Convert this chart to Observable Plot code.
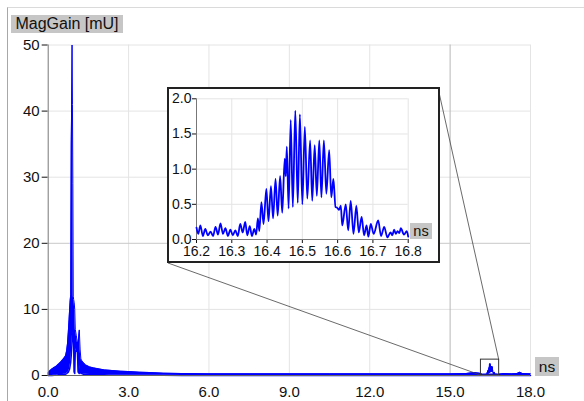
<!DOCTYPE html>
<html><head><meta charset="utf-8">
<script src="https://cdn.jsdelivr.net/npm/d3@7"></script>
<script src="https://cdn.jsdelivr.net/npm/@observablehq/plot@0.6"></script>
<style>
html,body{margin:0;padding:0;background:#fff;}
#wrap{position:relative;width:584px;height:401px;overflow:hidden;font-family:"Liberation Sans",Arial,sans-serif;}
#frame{position:absolute;left:7px;top:7px;width:600px;height:420px;border-left:1px solid #a8a8a8;border-top:1px solid #dadada;}
#main{position:absolute;left:0;top:0;}
.lbl{position:absolute;background:#c6c6c6;color:#111;text-align:center;white-space:nowrap;}
#inset{position:absolute;left:167px;top:87px;width:269px;height:172px;border:2px solid #222;background:#fff;}
#inset svg{display:block;}
</style></head>
<body><div id="wrap"><div id="frame"></div><div id="main"></div><div id="inset"></div></div>
<script>
// ---- data ----
const titleText = "MagGain [mU]";
const unitText = "ns";
const xTicks = [0, 3, 6, 9, 12, 15, 18];
const yTicks = [0, 10, 20, 30, 40, 50];
const xMarked = [15];
const yMarked = [20];
const insetXTicks = [16.2, 16.3, 16.4, 16.5, 16.6, 16.7, 16.8];
const insetYTicks = [0, 0.5, 1.0, 1.5, 2.0];
const zoomBoxX = [16.15, 16.83];
const zoomBoxY = [0, 2.4];

// main trace envelope (min / max of the fast oscillation per position)
const mainX  = [0, 0.06, 0.14, 0.22, 0.30, 0.38, 0.46, 0.54, 0.60, 0.65, 0.69, 0.72, 0.75, 0.78, 0.80, 0.82, 0.84, 0.86, 0.875, 0.89, 0.905, 0.92, 0.935, 0.95, 0.97, 0.99, 1.01, 1.05, 1.09, 1.12, 1.16, 1.19, 1.22, 1.26, 1.30, 1.40, 1.55, 1.70, 1.90, 2.10, 2.40, 2.70, 3.00, 3.40, 3.80, 4.30, 5.00, 6.00, 7.50, 9.00, 10.5, 12.0, 13.5, 15.0, 15.6, 15.9, 16.1, 16.2, 16.8, 17.0, 17.3, 17.5, 17.6, 17.7, 18.0];
const mainLo = [0, 0, 0, 0.05, 0.05, 0.1, 0.1, 0.15, 0.2, 0.2, 0.3, 0.4, 0.5, 0.8, 1.0, 1.5, 2.0, 3.0, 4.0, 5.0, 6.0, 6.5, 6.0, 5.0, 0.5, 0.3, 3.5, 4.0, 3.5, 0.5, 0.3, 1.5, 0.3, 0.3, 0.2, 0.2, 0.15, 0.1, 0.1, 0.1, 0.05, 0.05, 0.05, 0.05, 0.05, 0.05, 0, 0, 0, 0, 0, 0, 0, 0, 0, 0, 0, 0, 0, 0, 0, 0, 0, 0, 0];
const mainHi = [0.4, 0.7, 1.0, 1.2, 1.4, 1.7, 2.0, 2.4, 2.7, 3.0, 3.8, 4.8, 6.5, 8.5, 10.0, 11.3, 12.2, 35, 41, 50, 41, 29, 12.0, 11.5, 11.0, 10.0, 7.0, 6.0, 5.0, 5.0, 6.9, 4.0, 2.5, 2.2, 2.0, 1.6, 1.3, 1.15, 1.0, 0.85, 0.75, 0.65, 0.6, 0.5, 0.45, 0.35, 0.3, 0.25, 0.25, 0.25, 0.25, 0.25, 0.25, 0.25, 0.3, 0.45, 0.35, 0.2, 0.2, 0.3, 0.25, 0.3, 0.5, 0.3, 0.25];

// zoomed trace 16.2 – 16.8 ns
const insetX = [16.200, 16.205, 16.211, 16.218, 16.225, 16.232, 16.240, 16.247, 16.254, 16.261, 16.268, 16.275, 16.282, 16.289, 16.296, 16.303, 16.310, 16.317, 16.324, 16.331, 16.338, 16.344, 16.351, 16.357, 16.364, 16.369, 16.374, 16.378, 16.384, 16.390, 16.398, 16.404, 16.411, 16.417, 16.424, 16.430, 16.437, 16.443, 16.450, 16.453, 16.456, 16.461, 16.467, 16.473, 16.480, 16.487, 16.493, 16.500, 16.507, 16.514, 16.522, 16.528, 16.535, 16.541, 16.548, 16.554, 16.561, 16.568, 16.576, 16.582, 16.588, 16.594, 16.599, 16.604, 16.609, 16.613, 16.623, 16.630, 16.637, 16.645, 16.653, 16.660, 16.668, 16.675, 16.682, 16.687, 16.694, 16.702, 16.715, 16.723, 16.732, 16.741, 16.750, 16.755, 16.760, 16.765, 16.770, 16.775, 16.779, 16.788, 16.796, 16.800];
const insetY = [0.17, 0.08, 0.20, 0.05, 0.15, 0.06, 0.11, 0.05, 0.18, 0.07, 0.23, 0.08, 0.16, 0.05, 0.14, 0.06, 0.13, 0.05, 0.22, 0.10, 0.25, 0.06, 0.19, 0.05, 0.15, 0.07, 0.30, 0.12, 0.53, 0.22, 0.72, 0.26, 0.76, 0.30, 0.86, 0.34, 0.90, 0.38, 1.15, 0.90, 1.32, 0.44, 1.70, 0.46, 1.83, 0.52, 1.78, 0.50, 1.60, 0.58, 1.41, 0.55, 1.34, 0.62, 1.41, 0.60, 1.41, 0.65, 1.27, 0.60, 0.86, 0.46, 0.45, 0.42, 0.48, 0.20, 0.50, 0.13, 0.55, 0.08, 0.48, 0.10, 0.32, 0.06, 0.20, 0.04, 0.22, 0.08, 0.27, 0.05, 0.18, 0.03, 0.10, 0.06, 0.14, 0.08, 0.12, 0.09, 0.16, 0.07, 0.12, 0.04];

// ---- tables ----
const mainData = mainX.map((x, i) => ({x, lo: mainLo[i], hi: mainHi[i]}));
const insetData = insetX.map((x, i) => ({x, y: insetY[i]}));
const zoomBox = [{x1: zoomBoxX[0], x2: zoomBoxX[1], y1: zoomBoxY[0], y2: zoomBoxY[1]}];

const BLUE = "#0000ff";
const GRID = "#e4e4e4";
const fmt = d3.format(".1f");
const FONT = "'Liberation Sans', Arial, sans-serif";

// ---- main chart ----
const main = Plot.plot({
  width: 584, height: 401,
  marginLeft: 47.7, marginRight: 54, marginTop: 44.5, marginBottom: 26,
  x: {domain: [0, 18], ticks: xTicks, tickFormat: fmt, tickSize: 0, tickPadding: 11, label: null},
  y: {domain: [0, 50], ticks: yTicks, tickSize: 6, tickPadding: 2.5, label: null},
  style: {fontFamily: FONT, fontSize: "15px", color: "#111", background: "transparent", overflow: "visible"},
  marks: [
    Plot.ruleX(xTicks.filter(d => d > 0 && !xMarked.includes(d)), {stroke: GRID}),
    Plot.ruleY(yTicks.filter(d => d > 0 && !yMarked.includes(d)), {stroke: GRID}),
    Plot.ruleX(xMarked, {stroke: "#b8b8b8"}),
    Plot.ruleY(yMarked, {stroke: "#c8c8c8"}),
    Plot.areaY(mainData, {x: "x", y1: "lo", y2: "hi", fill: BLUE}),
    Plot.line(mainData, {x: "x", y: "hi", stroke: BLUE, strokeWidth: 1}),
    Plot.line(mainData, {x: "x", y: "lo", stroke: BLUE, strokeWidth: 1.5}),
    Plot.line(insetData, {x: "x", y: "y", stroke: BLUE, strokeWidth: 1}),
    Plot.rect(zoomBox, {x1: "x1", x2: "x2", y1: "y1", y2: "y2", stroke: "#333", strokeWidth: 1, fill: "none"}),
    Plot.ruleX([0], {stroke: "#777"}),
    Plot.ruleY([0], {stroke: "#666"})
  ]
});
document.getElementById("main").appendChild(main);

// connector lines from zoom box to inset panel
const sx = main.scale("x"), sy = main.scale("y");
const mx = d3.scaleLinear(sx.domain, sx.range), my = d3.scaleLinear(sy.domain, sy.range);
const insetBox = {left: 168, top: 88, right: 438, bottom: 263};
const conn = d3.select(main).append("g").attr("stroke", "#444").attr("stroke-width", 0.8);
conn.append("line").attr("x1", mx(zoomBoxX[0])).attr("y1", my(zoomBoxY[0])).attr("x2", insetBox.left).attr("y2", insetBox.bottom);
conn.append("line").attr("x1", mx(zoomBoxX[1])).attr("y1", my(zoomBoxY[1])).attr("x2", insetBox.right).attr("y2", insetBox.top);

// ---- inset chart ----
const inset = Plot.plot({
  width: 269, height: 172,
  marginLeft: 27, marginRight: 30.3, marginTop: 9.3, marginBottom: 22,
  x: {domain: [16.2, 16.8], ticks: insetXTicks, tickFormat: fmt, tickSize: 4, tickPadding: 3, label: null},
  y: {domain: [0, 2], ticks: insetYTicks, tickFormat: fmt, tickSize: 4, tickPadding: 1, label: null},
  style: {fontFamily: FONT, fontSize: "14px", color: "#111", background: "#fff", overflow: "visible"},
  marks: [
    Plot.ruleX(insetXTicks.slice(1), {stroke: GRID}),
    Plot.ruleY(insetYTicks.slice(1), {stroke: GRID}),
    Plot.ruleX([16.2], {stroke: "#777"}),
    Plot.ruleY([0], {stroke: "#777"}),
    Plot.line(insetData, {x: "x", y: "y", stroke: BLUE, strokeWidth: 1.8, curve: "monotone-x"})
  ]
});
document.getElementById("inset").appendChild(inset);

// ---- labels ----
function label(text, left, top, w, h, size) {
  const d = document.createElement("div");
  d.className = "lbl";
  d.textContent = text;
  Object.assign(d.style, {left: left + "px", top: top + "px", width: w + "px", height: h + "px", lineHeight: h + "px", fontSize: size + "px"});
  document.getElementById("wrap").appendChild(d);
}
label(titleText, 11, 15, 112, 18, 16);
label(unitText, 535, 357, 24, 19, 15.5);
label(unitText, 410, 223, 22, 16, 14.5);
</script>
</body></html>
